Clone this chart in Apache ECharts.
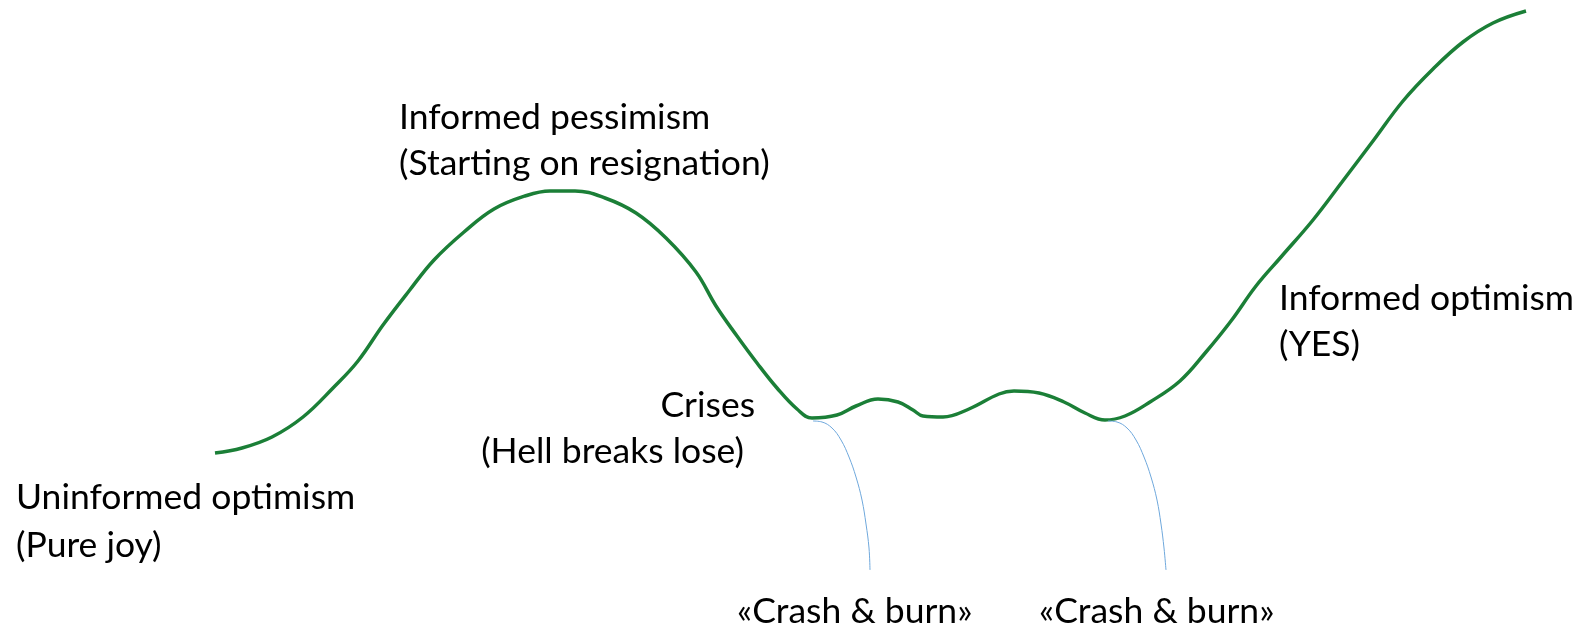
<!DOCTYPE html>
<html>
<head>
<meta charset="utf-8">
<script src="https://cdn.jsdelivr.net/npm/echarts@6/dist/echarts.min.js"></script>
<style>
  html, body { margin: 0; padding: 0; background: #fff; }
  #chart { width: 1582px; height: 635px; }
</style>
</head>
<body>
<div id="chart"></div>
<script>
// mood curve (x = time, y = depth from top)
const moodX = [215, 242, 272, 303, 333, 358, 383, 409, 434, 464, 494, 525, 550, 575, 605, 636, 666, 696, 716, 737, 757, 777, 797, 812, 837, 856, 878, 898, 913, 923, 943, 969, 999, 1014, 1039, 1064, 1085, 1105, 1125, 1150, 1180, 1206, 1231, 1256, 1281, 1313, 1342, 1373, 1403, 1433, 1463, 1493, 1526];
const moodY = [453, 448, 437, 417, 388, 361, 325, 291, 260, 232, 209, 196, 191, 191, 198, 213, 238, 272, 306, 336, 363, 388, 409, 418, 415, 406, 399, 402, 410, 416, 417, 409, 394, 391, 393, 402, 413, 420, 416, 402, 381, 352, 321, 286, 257, 220, 182, 141, 101, 69, 42, 23, 11];

// the two thin "crash & burn" drops
const crash1X = [813, 822, 832, 841, 849, 856, 862, 866, 869, 870];
const crash1Y = [421, 422, 428, 440, 457, 477, 500, 524, 548, 570];
const crash2X = [1108, 1117, 1127, 1136, 1144, 1151, 1157, 1161, 1164, 1166];
const crash2Y = [421, 422, 428, 440, 457, 477, 500, 524, 548, 570];

const pair = (xs, ys) => xs.map((x, i) => [x, ys[i]]);

const chart = echarts.init(document.getElementById('chart'));
const font = '35.5px Lato';
const txt = (text, x, y, align) => ({
  type: 'text',
  style: {
    text: text, x: x, y: y,
    fill: '#000', font: font,
    textAlign: align || 'left', align: align || 'left',
    textVerticalAlign: 'middle', verticalAlign: 'middle'
  }
});

chart.setOption({
  animation: false,
  grid: { left: 0, right: 0, top: 0, bottom: 0 },
  xAxis: { type: 'value', min: 0, max: 1582, show: false },
  yAxis: { type: 'value', min: 0, max: 635, inverse: true, show: false },
  series: [
    {
      type: 'line', data: pair(moodX, moodY), smooth: 0.4, showSymbol: false,
      lineStyle: { color: '#1b7f37', width: 3.5 }
    },
    {
      type: 'line', data: pair(crash1X, crash1Y), smooth: 0.4, showSymbol: false,
      lineStyle: { color: '#6fa8dc', width: 1 }
    },
    {
      type: 'line', data: pair(crash2X, crash2Y), smooth: 0.4, showSymbol: false,
      lineStyle: { color: '#6fa8dc', width: 1 }
    }
  ],
  graphic: [
    txt('Informed pessimism', 399, 118),
    txt('(Starting on resignation)', 399, 164),
    txt('Crises', 755, 406, 'right'),
    txt('(Hell breaks lose)', 744, 452, 'right'),
    txt('Uninformed optimism', 16, 498),
    txt('(Pure joy)', 16, 546),
    txt('Informed optimism', 1279, 299),
    txt('(YES)', 1279, 345),
    txt('«Crash & burn»', 737, 612),
    txt('«Crash & burn»', 1039, 612)
  ]
});
</script>
</body>
</html>
